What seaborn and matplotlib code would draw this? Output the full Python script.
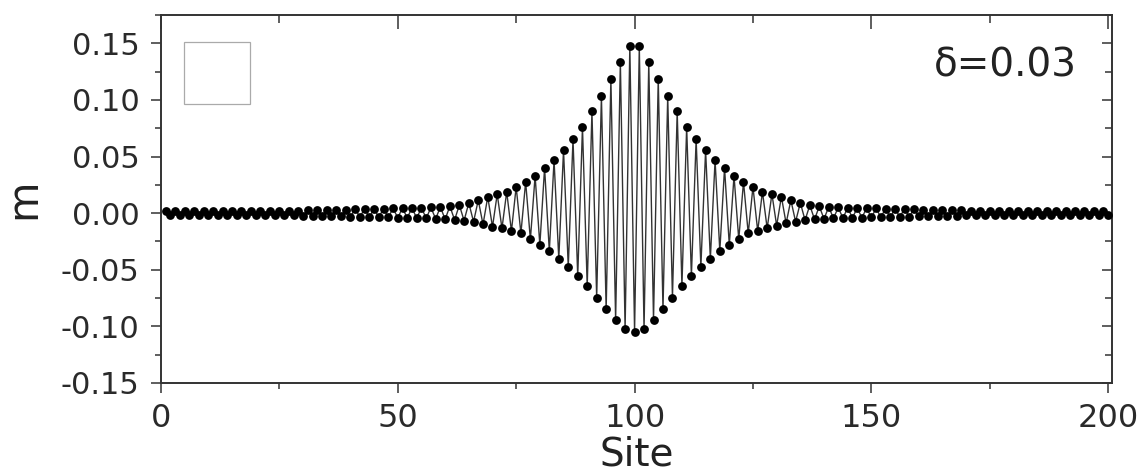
import numpy as np
import pandas as pd
import seaborn as sns
import matplotlib.pyplot as plt
from matplotlib.patches import Rectangle
from matplotlib.ticker import MultipleLocator

# magnetisation: odd sites 1,3,...,199 and even sites 2,4,...,200
odd_site_m = [
    0.0020, 0.0020, 0.0019, 0.0019, 0.0019, 0.0018, 0.0018, 0.0018, 0.0018, 0.0019,
    0.0019, 0.0020, 0.0021, 0.0022, 0.0023, 0.0024, 0.0026, 0.0028, 0.0030, 0.0032,
    0.0034, 0.0036, 0.0038, 0.0040, 0.0042, 0.0044, 0.0046, 0.0048, 0.0050, 0.0055,
    0.0062, 0.0072, 0.0090, 0.0115, 0.0144, 0.0168, 0.0188, 0.0232, 0.0276, 0.0329,
    0.0400, 0.0467, 0.0556, 0.0653, 0.0761, 0.0899, 0.1034, 0.1188, 0.1334, 0.1473,
    0.1473, 0.1334, 0.1188, 0.1034, 0.0899, 0.0761, 0.0653, 0.0556, 0.0467, 0.0400,
    0.0329, 0.0276, 0.0232, 0.0190, 0.0170, 0.0145, 0.0115, 0.0091, 0.0070, 0.0060,
    0.0055, 0.0050, 0.0048, 0.0046, 0.0044, 0.0042, 0.0040, 0.0038, 0.0036, 0.0034,
    0.0032, 0.0030, 0.0028, 0.0026, 0.0024, 0.0023, 0.0022, 0.0021, 0.0020, 0.0019,
    0.0019, 0.0018, 0.0018, 0.0018, 0.0018, 0.0019, 0.0019, 0.0019, 0.0020, 0.0020,
]
even_site_m = [
    -0.0018, -0.0018, -0.0017, -0.0017, -0.0017, -0.0016, -0.0016, -0.0016, -0.0016, -0.0017,
    -0.0017, -0.0018, -0.0019, -0.0020, -0.0021, -0.0022, -0.0024, -0.0026, -0.0028, -0.0030,
    -0.0032, -0.0034, -0.0036, -0.0038, -0.0040, -0.0042, -0.0044, -0.0046, -0.0050, -0.0055,
    -0.0060, -0.0066, -0.0076, -0.0100, -0.0121, -0.0135, -0.0159, -0.0179, -0.0232, -0.0282,
    -0.0335, -0.0403, -0.0474, -0.0556, -0.0644, -0.0747, -0.0850, -0.0944, -0.1026, -0.1047,
    -0.1026, -0.0944, -0.0850, -0.0747, -0.0644, -0.0556, -0.0474, -0.0403, -0.0335, -0.0282,
    -0.0232, -0.0179, -0.0159, -0.0135, -0.0110, -0.0090, -0.0075, -0.0062, -0.0055, -0.0050,
    -0.0046, -0.0044, -0.0042, -0.0040, -0.0038, -0.0036, -0.0034, -0.0032, -0.0030, -0.0028,
    -0.0026, -0.0024, -0.0022, -0.0021, -0.0020, -0.0019, -0.0018, -0.0017, -0.0017, -0.0016,
    -0.0016, -0.0016, -0.0016, -0.0017, -0.0017, -0.0017, -0.0018, -0.0018, -0.0018, -0.0018,
]
x_ticks = [0, 50, 100, 150, 200]
y_ticks = [-0.15, -0.10, -0.05, 0.00, 0.05, 0.10, 0.15]
label_text = "δ=0.03"


def main():
    sns.set_style("ticks")
    plt.rcParams["font.family"] = ["DejaVu Sans"]

    m = np.empty(200)
    m[0::2] = odd_site_m
    m[1::2] = even_site_m
    df = pd.DataFrame({"site": np.arange(1, 201), "m": m})

    fig = plt.figure(figsize=(11.4, 4.75), dpi=100)
    ax = fig.add_axes([0.1412, 0.1937, 0.9754 - 0.1412, 0.9684 - 0.1937])

    sns.lineplot(data=df, x="site", y="m", color="#333333", lw=1.0, ax=ax)
    sns.scatterplot(data=df, x="site", y="m", color="black", s=40,
                    linewidth=0, ax=ax, zorder=3)

    ax.set_xlim(0, 200.8)
    ax.set_ylim(-0.15, 0.175)
    ax.set_xticks(x_ticks)
    ax.set_xticklabels([str(v) for v in x_ticks])
    ax.set_yticks(y_ticks)
    ax.set_yticklabels([f"{v:.2f}" for v in y_ticks])
    ax.xaxis.set_minor_locator(MultipleLocator(25))
    ax.yaxis.set_minor_locator(MultipleLocator(0.025))

    dark = "#333333"
    for sp in ax.spines.values():
        sp.set_visible(True)
        sp.set_color(dark)
        sp.set_linewidth(1.4)
    ax.tick_params(which="major", direction="out", length=7.5, width=1.1,
                   color=dark, labelcolor="#2a2a2a", labelsize=22)
    ax.tick_params(which="minor", direction="out", length=4, width=1.1, color=dark)
    ax.tick_params(axis="y", pad=8)
    ax.tick_params(axis="x", which="major", pad=7, labelsize=23)

    # inward ticks on top and right, no labels
    top = ax.secondary_xaxis("top")
    top.set_xticks(x_ticks)
    top.xaxis.set_minor_locator(MultipleLocator(25))
    top.tick_params(which="major", direction="in", length=10, width=1.1,
                    color=dark, labeltop=False)
    top.tick_params(which="minor", direction="in", length=6, width=1.1, color=dark)
    right = ax.secondary_yaxis("right")
    right.set_yticks(y_ticks)
    right.yaxis.set_minor_locator(MultipleLocator(0.025))
    right.tick_params(which="major", direction="in", length=7.5, width=1.1,
                      color=dark, labelright=False)
    right.tick_params(which="minor", direction="in", length=5, width=1.1, color=dark)
    for sec in (top, right):
        for sp in sec.spines.values():
            sp.set_visible(False)

    ax.set_xlabel("Site", fontsize=28, color="#222222", labelpad=1)
    ax.set_ylabel("m", fontsize=30, color="#222222", labelpad=12)

    ax.text(0.963, 0.862, label_text, transform=ax.transAxes, ha="right",
            va="center", fontsize=28, color="#222222")

    # empty frame in the upper left corner
    ax.add_patch(Rectangle((0.0242, 0.758), 0.0694, 0.1686, transform=ax.transAxes,
                           fill=False, edgecolor="#aaaaaa", lw=0.9))

    fig.savefig("out.png", dpi=100, facecolor="white")


if __name__ == "__main__":
    main()
